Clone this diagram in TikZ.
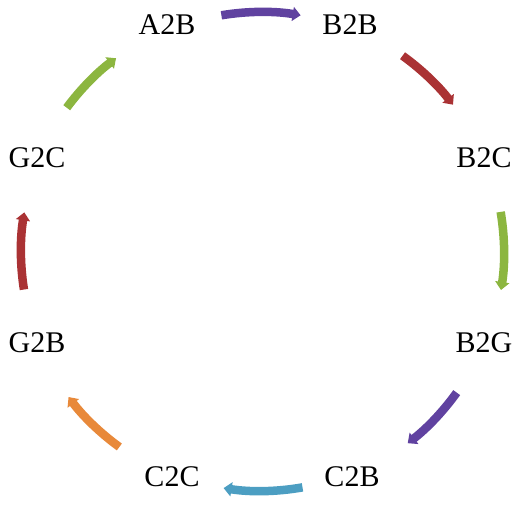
\documentclass[tikz,border=0pt]{standalone}
\usepackage{fontspec}
\setmainfont{Liberation Serif}
\usetikzlibrary{arrows.meta}
\definecolor{cpurple}{RGB}{96,66,160}
\definecolor{cred}{RGB}{170,50,52}
\definecolor{cgreen}{RGB}{140,182,64}
\definecolor{cblue}{RGB}{76,158,194}
\definecolor{corange}{RGB}{232,137,58}
\tikzset{
  lbl/.style={inner sep=0pt, anchor=base, font=\fontsize{30}{36}\selectfont},
  arr/.style={line width=8.5pt, -{Triangle[width=14pt,length=8pt]}}
}
\begin{document}
\begin{tikzpicture}[x=1pt,y=1pt]
\useasboundingbox (0,0) rectangle (520,504);
\coordinate (c) at (261,252);
\node[lbl] (A2B) at (167,469) {A2B};
\node[lbl] (B2B) at (350,469) {B2B};
\node[lbl] (B2C) at (484,336) {B2C};
\node[lbl] (B2G) at (484,151) {B2G};
\node[lbl] (C2B) at (352,17) {C2B};
\node[lbl] (C2C) at (172,17) {C2C};
\node[lbl] (G2B) at (37,151) {G2B};
\node[lbl] (G2C) at (37,336) {G2C};
\draw[arr, cpurple] (c) ++(99.5:240) arc[start angle=99.5, end angle=80.5, radius=240];
\draw[arr, cred] (c) ++(54.2:242) arc[start angle=54.2, end angle=37.5, radius=242];
\draw[arr, cgreen] (c) ++(9.5:243) arc[start angle=9.5, end angle=-9, radius=243];
\draw[arr, cpurple] (c) ++(-35.7:241) arc[start angle=-35.7, end angle=-52.5, radius=241];
\draw[arr, cblue] (c) ++(-80:239) arc[start angle=-80, end angle=-99, radius=239];
\draw[arr, corange] (c) ++(-126:241) arc[start angle=-126, end angle=-143, radius=241];
\draw[arr, cred] (c) ++(-171:240) arc[start angle=-171, end angle=-189.5, radius=240];
\draw[arr, cgreen] (c) ++(143.4:242) arc[start angle=143.4, end angle=126.8, radius=242];
\end{tikzpicture}
\end{document}
